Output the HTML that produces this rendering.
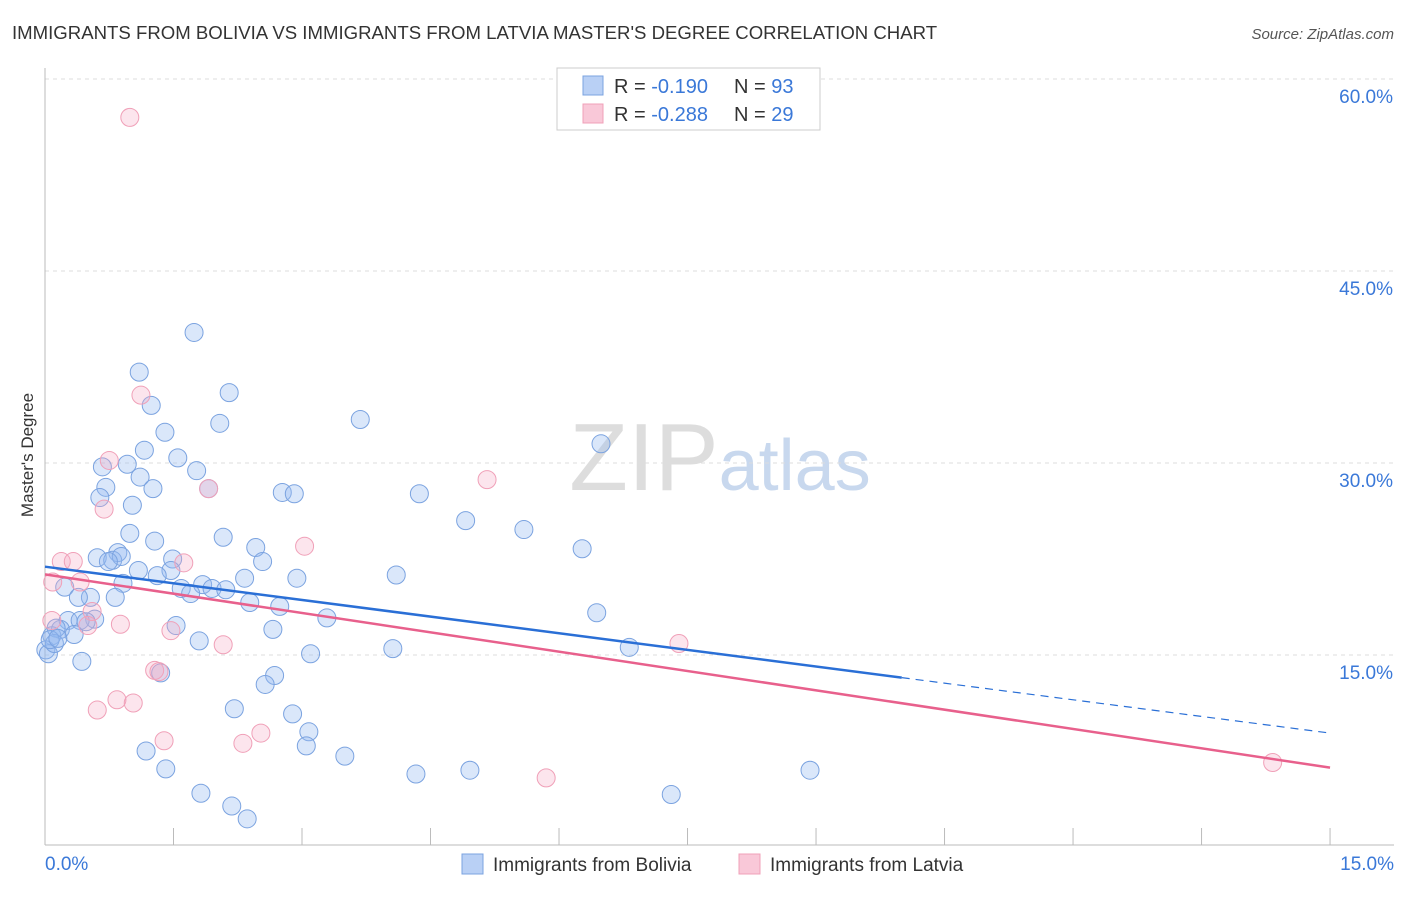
<!DOCTYPE html>
<html><head><meta charset="utf-8"><style>
body{margin:0;background:#fff;font-family:"Liberation Sans",sans-serif;}
svg text{font-family:"Liberation Sans",sans-serif;}
</style></head><body>
<svg id="chart" width="1406" height="892" xmlns="http://www.w3.org/2000/svg">
<text x="12" y="39" font-size="18.6" fill="#333">IMMIGRANTS FROM BOLIVIA VS IMMIGRANTS FROM LATVIA MASTER'S DEGREE CORRELATION CHART</text>
<text x="1394" y="39" font-size="15" fill="#555" text-anchor="end" font-style="italic">Source: ZipAtlas.com</text>
<text transform="translate(33,455) rotate(-90)" font-size="17" fill="#333" text-anchor="middle">Master's Degree</text>
<text x="720" y="490" font-size="96" fill="#ddd" text-anchor="middle" font-family="Liberation Serif">ZIP<tspan fill="#c8d8ee" font-family="Liberation Sans" font-size="72">atlas</tspan></text>
<g id="grid"></g><g id="axes"></g><g id="pts"></g><g id="lines"></g>
<g>
<rect x="557" y="68" width="263" height="62" fill="#fff" stroke="#ccc"/>
<rect x="583" y="76" width="20" height="19" fill="#b9d0f5" stroke="#7ba3e0"/>
<rect x="583" y="104" width="20" height="19" fill="#f9c8d8" stroke="#f0a0b8"/>
<text x="614" y="93" font-size="20" fill="#333">R = <tspan fill="#3a78d8">-0.190</tspan></text>
<text x="734" y="93" font-size="20" fill="#333">N = <tspan fill="#3a78d8">93</tspan></text>
<text x="614" y="121" font-size="20" fill="#333">R = <tspan fill="#3a78d8">-0.288</tspan></text>
<text x="734" y="121" font-size="20" fill="#333">N = <tspan fill="#3a78d8">29</tspan></text>
</g>
<g>
<rect x="462" y="854" width="21" height="20" fill="#b9d0f5" stroke="#7ba3e0"/>
<text x="493" y="871" font-size="19" fill="#333">Immigrants from Bolivia</text>
<rect x="739" y="854" width="21" height="20" fill="#f9c8d8" stroke="#f0a0b8"/>
<text x="770" y="871" font-size="19" fill="#333">Immigrants from Latvia</text>
</g>
</svg>
<script>
const yTicks=[15,30,45,60];
const xTickLabels=["0.0%","15.0%"];
const boliviaX=[1.74,1.10,2.15,1.24,3.68,2.04,1.40,6.49,1.16,1.55,0.67,0.96,1.77,1.11,0.71,1.26,1.91,2.77,2.91,4.37,0.64,1.02,4.91,5.59,0.99,2.08,1.28,6.27,2.46,0.85,0.61,0.79,0.89,1.49,2.54,0.74,1.09,1.47,1.31,2.33,2.94,4.10,0.91,0.23,1.59,1.84,1.95,2.11,1.70,0.82,0.53,0.39,2.39,2.74,6.44,3.29,0.58,0.27,0.41,0.48,1.53,2.66,0.18,0.34,0.08,1.80,6.82,4.06,0.01,0.04,3.10,0.43,1.35,2.68,2.57,2.21,2.89,3.08,3.05,1.18,3.50,1.41,4.33,4.96,8.93,7.31,1.82,2.18,2.36,0.13,0.11,0.06,0.15];
const boliviaY=[40.2,37.1,35.5,34.5,33.4,33.1,32.4,31.5,31.0,30.4,29.7,29.9,29.4,28.9,28.1,28.0,28.0,27.7,27.6,27.6,27.3,26.7,25.5,24.8,24.5,24.2,23.9,23.3,23.4,23.0,22.6,22.4,22.7,22.5,22.3,22.3,21.6,21.6,21.2,21.0,21.0,21.25,20.6,20.3,20.2,20.5,20.2,20.1,19.8,19.5,19.5,19.5,19.1,18.8,18.3,17.9,17.8,17.7,17.7,17.6,17.3,17.0,17.0,16.6,16.5,16.1,15.6,15.5,15.4,15.1,15.1,14.5,13.6,13.4,12.7,10.8,10.4,9.0,7.9,7.5,7.1,6.1,5.7,6.0,6.0,4.1,4.2,3.2,2.2,17.1,15.9,16.2,16.3];
const latviaX=[0.99,1.12,0.75,1.91,5.16,0.69,3.03,0.19,0.33,1.62,0.09,0.41,0.55,0.08,0.50,0.88,1.47,2.08,7.40,1.28,1.33,0.61,0.84,1.03,1.39,2.31,2.52,5.85,14.33];
const latviaY=[57.0,35.3,30.2,28.0,28.7,26.4,23.5,22.3,22.3,22.2,20.7,20.7,18.4,17.7,17.3,17.4,16.9,15.8,15.9,13.8,13.7,10.7,11.5,11.25,8.3,8.1,8.9,5.4,6.6];
const boliviaTrend=[21.9,8.9];
const latviaTrend=[21.3,6.2];
const NS="http://www.w3.org/2000/svg";
const X=v=>45+v*85.67, Y=v=>847-v*12.8;
function mk(t,a,p){const e=document.createElementNS(NS,t);for(const k in a)e.setAttribute(k,a[k]);document.getElementById(p).appendChild(e);return e;}
yTicks.forEach(t=>{
 const l=mk('line',{x1:45,x2:1394,y1:Y(t),y2:Y(t),stroke:'#ddd','stroke-dasharray':'4,4'},'grid');
 
 
 const tx=mk('text',{x:1393,y:Y(t)+24,'font-size':19,fill:'#3a78d8','text-anchor':'end'},'axes');
 tx.textContent=t.toFixed(1)+'%';
 
 
});
const ax=mk('line',{x1:45,x2:45,y1:68,y2:845,stroke:'#bbb'},'axes');


const bx=mk('line',{x1:45,x2:1394,y1:845,y2:845,stroke:'#bbb'},'axes');


for(let i=0;i<=10;i++){const v=i*1.5;
 const t=mk('line',{x1:X(v),x2:X(v),y1:828,y2:845,stroke:'#bbb'},'axes');
 
 }
xTickLabels.forEach((s,i)=>{
 const t=mk('text',{x:i?1394:45,y:870,'font-size':19,fill:'#3a78d8','text-anchor':i?'end':'start'},'axes');
 t.textContent=s;
 
 
});
boliviaX.forEach((x,i)=>{
 const c=mk('circle',{cx:X(x),cy:Y(boliviaY[i]),r:9,fill:'rgba(150,185,240,0.35)',stroke:'#7ba3e0','stroke-width':1},'pts');
 
 
});
latviaX.forEach((x,i)=>{
 const c=mk('circle',{cx:X(x),cy:Y(latviaY[i]),r:9,fill:'rgba(245,170,195,0.3)',stroke:'#f0a0b8','stroke-width':1},'pts');
 
 
});
const bAt=x=>boliviaTrend[0]+(boliviaTrend[1]-boliviaTrend[0])*x/15;
const b1=mk('line',{x1:X(0),y1:Y(bAt(0)),x2:X(10),y2:Y(bAt(10)),stroke:'#2a6fd6','stroke-width':2.5},'lines');


const b2=mk('line',{x1:X(10),y1:Y(bAt(10)),x2:X(15),y2:Y(bAt(15)),stroke:'#2a6fd6','stroke-width':1.2,'stroke-dasharray':'8,6'},'lines');


const p1=mk('line',{x1:X(0),y1:Y(latviaTrend[0]),x2:X(15),y2:Y(latviaTrend[1]),stroke:'#e8608c','stroke-width':2.5},'lines');


</script>
</body></html>
